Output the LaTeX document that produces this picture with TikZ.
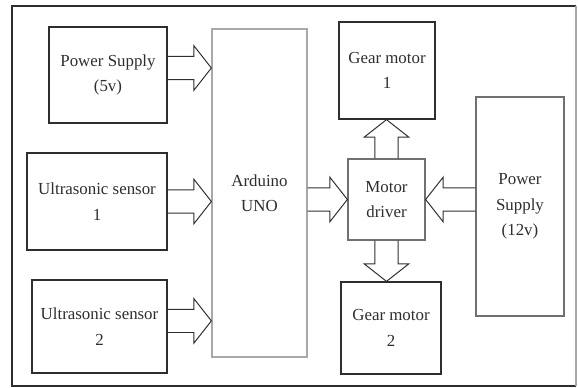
\documentclass[tikz,border=0pt]{standalone}
\usepackage{fontspec}
\setmainfont{Liberation Serif}
\usetikzlibrary{positioning, calc}
\definecolor{cdark}{HTML}{2E2E2E}
\definecolor{cmid}{HTML}{707070}
\definecolor{clight}{HTML}{A8A8A8}
\tikzset{
  every picture/.style={font=\fontsize{12}{18}\selectfont, line width=0.9pt},
  block/.style={draw=#1, align=center, inner sep=2pt, text=cdark},
  block/.default=cdark,
  fat/.style={draw=cdark, line width=0.7pt, line join=miter},
}
% hollow block arrow: #1 start, #2 tip
\newcommand{\shaftw}{0.29cm}
\newcommand{\headw}{0.56cm}
\newcommand{\headlen}{0.44cm}
\newcommand{\fatarrow}[2]{
  \coordinate (fa) at (#1);
  \coordinate (fb) at (#2);
  \coordinate (hb) at ($(fb)!\headlen!(fa)$);
  \draw[fat] ($(fa)!\shaftw!90:(fb)$) -- ($(hb)!\shaftw!90:(fb)$) -- ($(hb)!\headw!90:(fb)$)
    -- (fb) -- ($(hb)!\headw!-90:(fb)$) -- ($(hb)!\shaftw!-90:(fb)$) -- ($(fa)!\shaftw!-90:(fb)$);}

\begin{document}
\begin{tikzpicture}
  \useasboundingbox (0,0) rectangle (14.45,9.7);
  % frame
  \draw[cdark, line width=1pt] (14.4,9.55) -- (0.3,9.55) -- (0.3,0.05) -- (14.4,0.05);
  \draw[clight] (14.4,9.55) -- (14.4,0.05);

  % blocks
  \node[block, minimum width=2.95cm, minimum height=2.4cm] (ps5) at (2.7,7.825) {Power Supply\\(5v)};
  \node[block, minimum width=3.5cm, minimum height=2.425cm] (us1) at (2.425,4.6625) {Ultrasonic sensor\\1};
  \node[block, minimum width=3.375cm, minimum height=2.325cm] (us2) at (2.4875,1.5375) {Ultrasonic sensor\\2};
  \node[block=clight, minimum width=2.375cm, minimum height=8.2cm] (uno) at (6.4875,4.875) {Arduino\\UNO};
  \node[block=cmid, minimum width=1.925cm, minimum height=2.025cm] (drv) at (9.6625,4.7125) {Motor\\driver};
  \node[block, minimum width=2.4cm, minimum height=2.425cm] (gm1) at (9.675,7.9375) {Gear motor\\1};
  \node[block, minimum width=2.5cm, minimum height=2.3cm] (gm2) at (9.775,1.5) {Gear motor\\2};
  \node[block=cmid, minimum width=2.2cm, minimum height=5.475cm] (ps12) at (13.0,4.5375) {Power\\Supply\\(12v)};

  % arrows
  \coordinate (a5) at ([yshift=0.175cm]ps5.east);
  \coordinate (as2) at ([yshift=0.14cm]us2.east);
  \fatarrow{a5}{a5 -| uno.west}
  \fatarrow{us1.east}{us1.east -| uno.west}
  \fatarrow{as2}{as2 -| uno.west}
  \fatarrow{uno.east |- drv.west}{drv.west}
  \fatarrow{ps12.west |- drv.east}{drv.east}
  \fatarrow{drv.north}{drv.north |- gm1.south}
  \fatarrow{drv.south}{drv.south |- gm2.north}
\end{tikzpicture}
\end{document}
